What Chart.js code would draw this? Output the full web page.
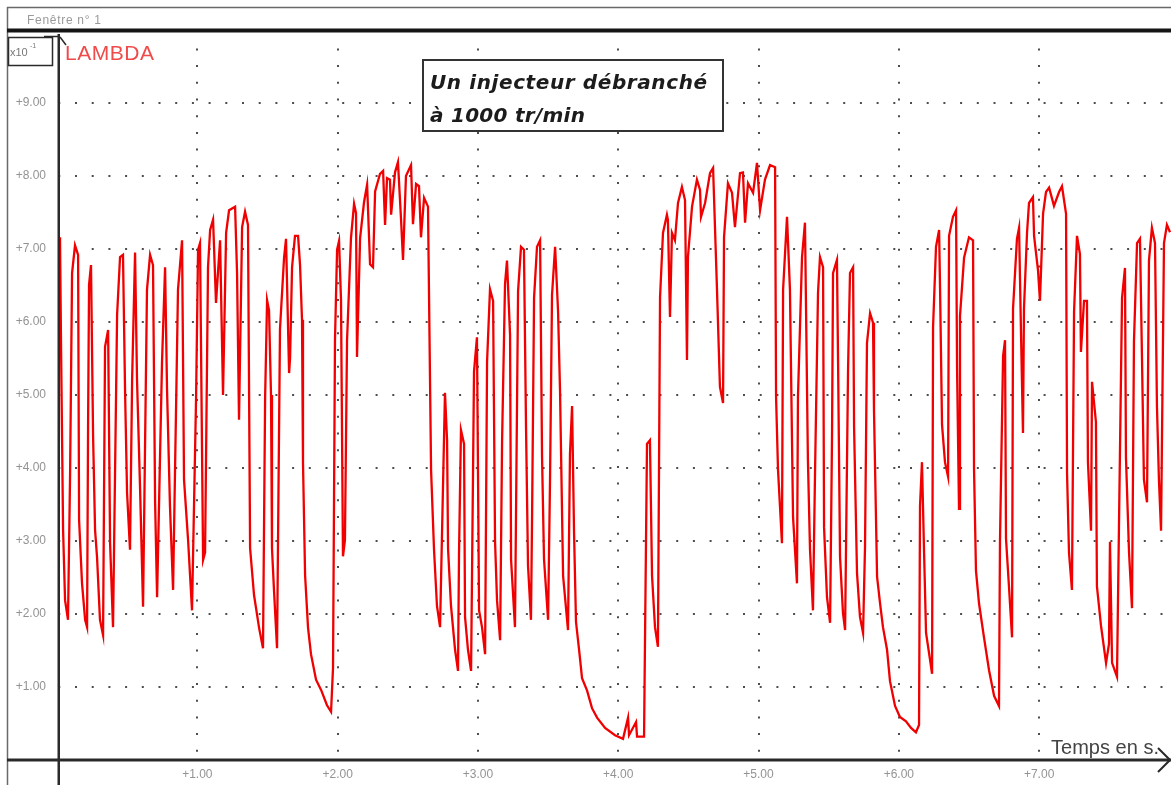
<!DOCTYPE html>
<html>
<head>
<meta charset="utf-8">
<title>LAMBDA</title>
<script src="https://cdn.jsdelivr.net/npm/chart.js@4/dist/chart.umd.min.js"></script>
<style>
  html, body { margin: 0; padding: 0; background: #ffffff; }
  #wrap { width: 1171px; height: 785px; }
</style>
</head>
<body>
<div id="wrap"><canvas id="chart" width="1171" height="785"></canvas></div>
<script>
// time in seconds
const traceTimes = [
  0.021,0.029,0.043,0.057,0.078,0.093,0.107,0.128,0.150,0.157,
  0.178,0.200,0.214,0.221,0.228,0.242,0.257,0.271,0.285,0.306,
  0.328,0.342,0.364,0.378,0.399,0.428,0.449,0.470,0.485,0.499,
  0.520,0.535,0.556,0.570,0.592,0.613,0.641,0.663,0.684,0.699,
  0.713,0.748,0.770,0.784,0.805,0.827,0.862,0.891,0.905,0.934,
  0.962,0.991,1.005,1.019,1.041,1.055,1.076,1.091,1.112,1.133,
  1.162,1.183,1.205,1.226,1.269,1.283,1.297,1.319,1.340,1.361,

  1.376,1.404,1.440,1.468,1.483,1.497,1.511,1.525,1.532,1.547,
  1.568,1.589,1.618,1.632,1.654,1.661,1.675,1.696,1.718,1.732,
  1.746,1.753,1.768,1.789,1.810,1.846,1.882,1.924,1.953,1.967,
  1.981,1.996,2.010,2.024,2.038,2.052,2.067,2.095,2.117,2.131,
  2.138,2.160,2.188,2.210,2.231,2.252,2.267,2.302,2.324,2.338,
  2.352,2.373,2.381,2.409,2.430,2.452,2.466,2.487,2.523,2.537,
  2.559,2.580,2.594,2.616,2.644,2.666,2.687,2.708,2.730,

  2.765,2.780,2.787,2.808,2.837,2.858,2.865,2.879,2.901,2.908,
  2.929,2.951,2.958,2.972,2.993,3.008,3.029,3.051,3.065,3.086,
  3.108,3.122,3.136,3.158,3.172,3.193,3.207,3.229,3.236,3.264,
  3.286,3.307,3.328,3.343,3.357,3.378,3.386,3.400,3.421,3.443,
  3.457,3.471,3.500,3.514,3.528,3.550,3.571,3.585,3.607,3.642,
  3.656,3.671,3.685,3.699,3.721,3.742,3.778,3.813,3.849,3.906,
  3.977,4.034,4.070,4.077,4.127,4.134,4.184,4.191,4.205,4.226,
  4.241,4.262,4.283,

  4.298,4.319,4.347,4.354,4.369,4.383,4.404,4.426,4.454,4.476,
  4.490,4.497,4.526,4.561,4.583,4.590,4.619,4.654,4.676,4.704,
  4.725,4.747,4.754,4.782,4.811,4.832,4.868,4.889,4.904,4.925,
  4.961,4.989,5.011,5.046,5.082,5.118,5.125,5.139,5.167,5.175,
  5.203,5.224,5.246,5.274,5.281,5.310,5.331,5.352,5.367,5.388,
  5.403,5.424,5.438,5.460,5.467,5.488,5.510,5.524,5.531,5.559,
  5.567,5.581,5.602,5.617,5.638,5.652,5.674,5.681,5.702,5.723,
  5.745,5.759,5.773,5.795,5.816,5.823,5.845,5.866,5.887,5.916,

  5.937,5.973,6.008,6.051,6.087,6.122,6.144,6.151,6.165,6.180,
  6.194,6.222,6.237,6.244,6.265,6.287,6.294,6.308,6.329,6.351,
  6.358,6.386,6.408,6.415,6.429,6.436,6.465,6.500,6.529,6.536,
  6.550,6.572,6.607,6.643,6.679,6.714,6.721,6.743,6.757,6.764,
  6.785,6.807,6.814,6.842,6.857,6.871,6.885,6.892,6.914,6.928,
  6.956,6.964,6.992,7.006,7.028,7.049,7.071,7.106,7.142,7.163,
  7.192,7.199,7.213,7.234,7.249,7.270,7.291,7.298,7.320,7.341,
  7.348,7.370,7.377,7.405,7.412,7.441,7.477,7.498,7.505,7.520,
  7.555,7.569,7.591,7.612,7.619,7.641,7.662,7.676,7.698,7.719,
  7.733,7.747,7.769,7.783,7.804,7.826,7.840,7.854,7.869,7.890,
  7.911,7.933
];

// lambda, in units of 10^-1
const lambdaValues = [
  7.16,5.58,3.15,2.19,1.92,3.93,6.67,7.05,6.92,3.29,
  2.42,1.92,1.82,4.56,6.51,6.78,4.42,3.15,2.78,1.92,
  1.71,5.66,5.89,2.97,1.82,6.10,6.89,6.92,5.03,3.66,
  2.88,5.21,6.95,5.21,3.70,2.10,6.44,6.92,6.78,3.52,
  2.23,5.44,6.75,5.07,3.47,2.33,6.44,7.12,3.84,3.01,
  2.05,4.97,6.99,7.08,2.74,2.84,6.75,7.26,7.40,6.26,
  7.12,5.00,7.22,7.53,7.58,6.67,4.66,7.30,7.51,7.33,

  2.90,2.26,1.81,1.53,4.96,6.30,6.16,5.00,2.90,2.30,
  1.53,5.90,6.88,7.14,5.30,5.51,6.75,7.18,7.18,6.78,
  6.03,4.08,2.53,1.81,1.45,1.10,0.96,0.75,0.66,1.26,
  5.75,6.99,7.11,6.30,2.79,3.01,5.75,7.15,7.62,7.49,
  5.52,7.15,7.64,7.88,6.79,6.75,7.79,8.03,8.07,7.33,
  7.97,7.95,7.47,8.05,8.19,7.40,6.85,8.00,8.15,7.34,
  7.89,7.86,7.16,7.70,7.58,3.97,2.88,2.11,1.82,

  5.03,4.38,2.89,2.11,1.51,1.22,2.81,4.52,4.33,1.96,
  1.51,1.22,2.58,5.32,5.79,2.05,1.82,1.45,5.45,6.45,
  6.29,2.99,2.19,1.64,4.36,6.52,6.84,5.82,2.75,1.82,
  6.42,7.03,6.99,4.52,2.66,1.92,3.36,6.33,7.03,7.12,
  4.15,2.75,1.92,3.86,6.37,7.03,6.15,5.07,2.52,1.78,
  4.19,4.85,3.12,1.89,1.51,1.12,0.95,0.71,0.58,0.44,
  0.34,0.29,0.58,0.34,0.52,0.32,0.32,1.68,4.33,4.38,
  2.52,1.82,1.55,

  6.34,7.22,7.47,7.40,6.07,7.22,7.12,7.63,7.85,7.67,
  5.48,6.89,7.58,7.95,7.81,7.44,7.63,8.04,8.11,6.44,
  5.11,4.89,7.16,7.90,7.77,7.30,8.04,8.05,7.36,7.90,
  7.77,8.18,7.53,7.95,8.15,8.12,4.97,3.97,2.97,6.44,
  7.44,6.44,3.33,2.42,4.97,6.89,7.36,4.11,2.88,2.05,
  3.97,6.40,6.89,6.75,3.19,2.23,1.88,4.48,6.67,6.85,
  5.44,2.78,2.01,1.78,5.34,6.67,6.75,4.56,2.56,1.96,
  1.74,2.92,5.71,6.12,5.99,4.79,2.51,2.15,1.82,1.51,

  1.08,0.74,0.59,0.53,0.44,0.38,0.48,3.48,4.08,2.84,
  1.74,1.38,1.18,5.93,7.03,7.26,6.44,4.59,4.08,3.88,
  7.18,7.44,7.53,5.38,3.44,6.08,6.88,7.16,7.12,3.99,
  2.59,2.14,1.68,1.23,0.88,0.74,2.99,5.53,5.75,3.03,
  2.38,1.68,6.18,7.14,7.29,5.84,4.48,6.18,7.23,7.63,
  7.71,7.18,6.71,6.29,7.48,7.78,7.84,7.59,7.78,7.86,
  7.48,3.93,2.84,2.33,6.14,7.18,6.93,5.59,6.29,6.29,
  4.08,3.14,5.18,4.63,2.38,1.84,1.33,1.59,2.99,1.33,
  1.14,3.18,6.33,6.74,4.14,2.84,2.08,5.73,7.08,7.14,
  5.53,3.84,3.53,6.84,7.29,7.08,4.84,3.84,3.14,7.08,
  7.33,7.23
];

const timeTicks = [1, 2, 3, 4, 5, 6, 7];
const lambdaTicks = [1, 2, 3, 4, 5, 6, 7, 8, 9];

const WINDOW_TITLE = 'Fenêtre n° 1';
const SERIES_NAME = 'LAMBDA';
const UNIT_LABEL = 'x10';
const UNIT_EXP = '-1';
const TIME_LABEL = 'Temps en s.';
const NOTE_LINES = ['Un injecteur débranché', 'à 1000 tr/min'];

const FONT = '"Liberation Sans", Arial, sans-serif';
const INK = '#2a2a2a';
const DOTS = '#4d4d4d';

function tickLabel(value) {
  return '+' + value.toFixed(2);
}

function fitText(ctx, text, x, y, width) {
  ctx.letterSpacing = '0px';
  const natural = ctx.measureText(text).width;
  const extra = (width - natural) / Math.max(text.length - 1, 1);
  ctx.letterSpacing = `${extra.toFixed(2)}px`;
  ctx.fillText(text, x, y);
  ctx.letterSpacing = '0px';
}

const scopeFrame = {
  id: 'scopeFrame',
  afterDraw(chart) {
    const ctx = chart.ctx;
    const area = chart.chartArea;
    const W = chart.width;
    const H = chart.height;
    ctx.save();

    // outer window border and header
    ctx.strokeStyle = '#6a6a6a';
    ctx.lineWidth = 1.5;
    ctx.beginPath();
    ctx.moveTo(7, 7.5);
    ctx.lineTo(W, 7.5);
    ctx.moveTo(7.5, 7);
    ctx.lineTo(7.5, H);
    ctx.stroke();

    ctx.fillStyle = '#9a9a9a';
    ctx.font = `12px ${FONT}`;
    ctx.textBaseline = 'alphabetic';
    ctx.textAlign = 'left';
    fitText(ctx, WINDOW_TITLE, 27, 24, 74);

    ctx.fillStyle = '#151515';
    ctx.fillRect(7, 28.5, W - 7, 4);

    // vertical axis, running through the label strip
    ctx.fillStyle = INK;
    ctx.fillRect(area.left - 2.5, area.top, 2.5, H - area.top);

    // unit box
    ctx.strokeStyle = INK;
    ctx.lineWidth = 1.5;
    ctx.strokeRect(8.5, 37.5, 44, 28);
    ctx.beginPath();
    ctx.moveTo(44, 36.5);
    ctx.lineTo(area.left, 36.5);
    ctx.moveTo(area.left, 37);
    ctx.lineTo(area.left + 6, 45);
    ctx.stroke();
    ctx.fillStyle = '#777';
    ctx.font = `11px ${FONT}`;
    ctx.fillText(UNIT_LABEL, 10, 56);
    ctx.font = `7px ${FONT}`;
    ctx.fillText(UNIT_EXP, 30, 48);

    // series name
    ctx.fillStyle = '#f04a4a';
    ctx.font = `21px ${FONT}`;
    fitText(ctx, SERIES_NAME, 65, 60, 89);

    // note box
    ctx.fillStyle = '#ffffff';
    ctx.fillRect(423, 60, 300, 71);
    ctx.strokeStyle = '#333';
    ctx.lineWidth = 2;
    ctx.strokeRect(423, 60, 300, 71);
    ctx.fillStyle = '#1c1c1c';
    ctx.font = `italic bold 20px "DejaVu Sans", sans-serif`;
    fitText(ctx, NOTE_LINES[0], 430, 89, 277);
    fitText(ctx, NOTE_LINES[1], 430, 122, 155);

    // horizontal axis with arrow
    ctx.fillStyle = INK;
    ctx.fillRect(7, area.bottom - 1.5, W - 7, 3);
    ctx.strokeStyle = INK;
    ctx.lineWidth = 2;
    ctx.beginPath();
    ctx.moveTo(W - 13, area.bottom - 12);
    ctx.lineTo(W - 1, area.bottom);
    ctx.lineTo(W - 13, area.bottom + 12);
    ctx.stroke();

    ctx.fillStyle = '#444';
    ctx.font = `20px ${FONT}`;
    fitText(ctx, TIME_LABEL, 1051, 754, 108);

    ctx.restore();
  }
};

const points = traceTimes.map((t, i) => ({ x: t, y: lambdaValues[i] }));

new Chart(document.getElementById('chart').getContext('2d'), {
  type: 'line',
  data: {
    datasets: [{
      label: SERIES_NAME,
      data: points,
      borderColor: '#f00000',
      backgroundColor: '#f00000',
      borderWidth: 2.3,
      pointRadius: 0,
      tension: 0,
      fill: false,
      parsing: false
    }]
  },
  options: {
    responsive: false,
    animation: false,
    devicePixelRatio: 1,
    layout: { padding: { top: 34, right: 0, bottom: 0, left: 0 } },
    plugins: {
      legend: { display: false },
      tooltip: { enabled: false },
      title: { display: false }
    },
    scales: {
      x: {
        type: 'linear',
        min: 0.021,
        max: 7.94,
        afterFit: (scale) => { scale.height = 25; },
        afterBuildTicks: (scale) => { scale.ticks = timeTicks.map((v) => ({ value: v })); },
        ticks: {
          callback: (value) => tickLabel(value),
          color: '#939393',
          font: { family: FONT, size: 12 },
          padding: 7,
          maxRotation: 0,
          autoSkip: false
        },
        grid: {
          color: DOTS,
          lineWidth: 2,
          drawTicks: false
        },
        border: { display: false, dash: [2, 14.7], dashOffset: 2.3 }
      },
      y: {
        min: 0,
        max: 9.945,
        afterFit: (scale) => { scale.width = 60; },
        afterBuildTicks: (scale) => { scale.ticks = lambdaTicks.map((v) => ({ value: v })); },
        ticks: {
          callback: (value) => tickLabel(value),
          color: '#939393',
          font: { family: FONT, size: 12 },
          padding: 14
        },
        grid: {
          color: DOTS,
          lineWidth: 2,
          drawTicks: false
        },
        border: { display: false, dash: [2, 14.7], dashOffset: 1.7 }
      }
    }
  },
  plugins: [scopeFrame]
});
</script>
</body>
</html>
